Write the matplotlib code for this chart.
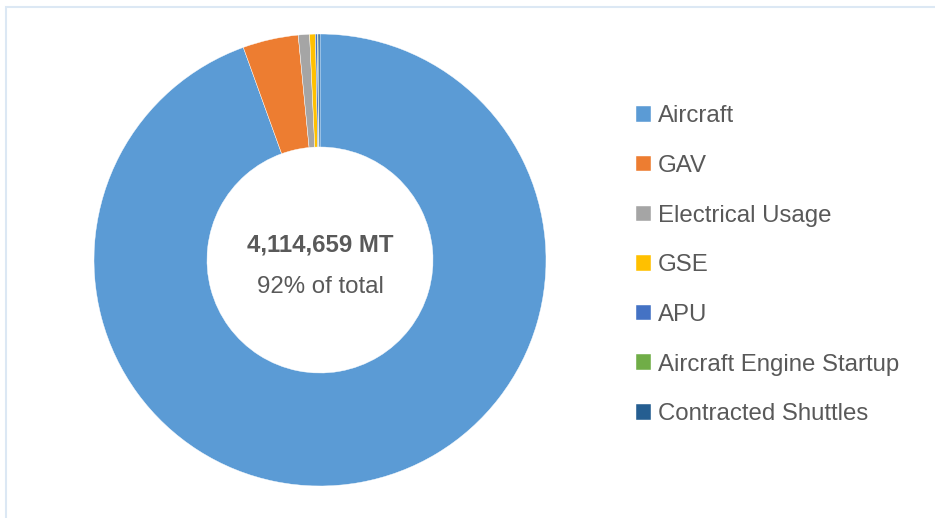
import matplotlib.pyplot as plt
from matplotlib.patches import Rectangle
import matplotlib.font_manager as fm

# emissions by source (MT CO2e)
labels = ["Aircraft", "GAV", "Electrical Usage", "GSE", "APU",
          "Aircraft Engine Startup", "Contracted Shuttles"]
values = [4114659, 173000, 35000, 18000, 6000, 2000, 6000]
colors = ["#5B9BD5", "#ED7D31", "#A5A5A5", "#FFC000", "#4472C4",
          "#70AD47", "#255E91"]
center_total = "4,114,659 MT"
center_share = "92% of total"

names = {f.name for f in fm.fontManager.ttflist}
family = "Liberation Sans Narrow" if "Liberation Sans Narrow" in names else "Liberation Sans"
plt.rcParams["font.family"] = [family, "DejaVu Sans"]
txt = "#595959"

W, H = 935, 518
fig = plt.figure(figsize=(W / 100, H / 100), dpi=100)

# light frame of the chart area (cut off on right and bottom)
fig.patches.append(Rectangle((6 / W, -0.1), 1.2, 1 - 7 / H + 0.1,
                             transform=fig.transFigure, fill=False,
                             edgecolor="#DCE8F4", linewidth=1.5))

cx, cy, r = 320, 260, 226
ax = fig.add_axes([(cx - r) / W, (H - cy - r) / H, 2 * r / W, 2 * r / H])
wedges, _ = ax.pie(values, colors=colors, startangle=90, counterclock=False,
                   radius=1, wedgeprops=dict(width=0.5, edgecolor="white",
                                             linewidth=0.3))
ax.set_xlim(-1, 1)
ax.set_ylim(-1, 1)
ax.set_aspect("equal")
ax.axis("off")

ax.text(0, 0.066, center_total, ha="center", va="center", fontsize=17.3,
        fontweight="bold", color=txt)
ax.text(0, -0.12, center_share, ha="center", va="center", fontsize=17.3,
        color=txt)

leg = fig.legend(wedges, labels, loc="upper left",
                 bbox_to_anchor=(636 / W, 1 - 105.5 / H), frameon=False,
                 fontsize=17.3, handlelength=0.62, handleheight=0.62,
                 handletextpad=0.3, labelspacing=1.15, labelcolor=txt,
                 borderaxespad=0, borderpad=0)

fig.savefig("out.png", dpi=100)
